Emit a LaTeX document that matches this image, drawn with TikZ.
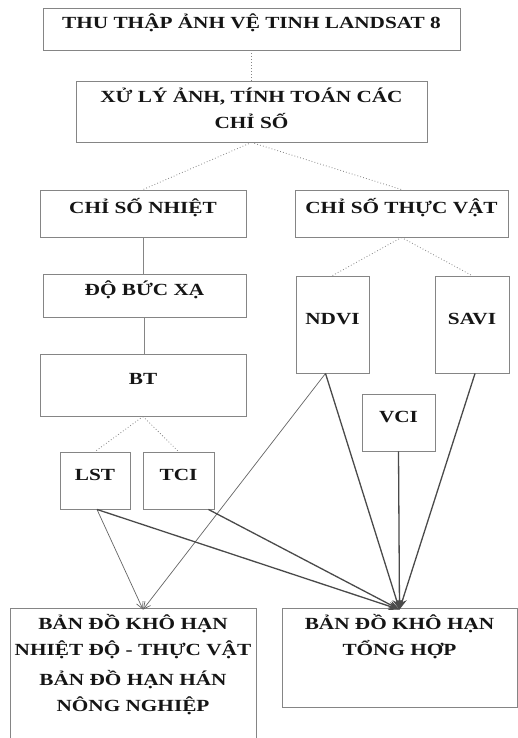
\documentclass[tikz,border=0pt]{standalone}
\usepackage{fontspec}
\setmainfont{Liberation Serif}[FakeStretch=1.25]
\usetikzlibrary{arrows.meta}
\definecolor{ink}{HTML}{151515}
\definecolor{edge}{HTML}{858585}
\definecolor{arr}{HTML}{4A4A4A}
\begin{document}
\begin{tikzpicture}[x=1pt,y=-1pt,
  box/.style={draw=edge, line width=0.9pt, inner sep=0pt, text=ink,
    font=\fontsize{17}{27}\selectfont\bfseries, text height=11pt, text depth=12pt},
  txt/.style={text=ink, font=\fontsize{17}{26}\selectfont\bfseries, align=center, inner sep=0pt},
  dotline/.style={draw=edge, line width=0.8pt, dash pattern=on 0.8pt off 2.2pt},
  plain/.style={draw=edge, line width=0.8pt},
  thinarrow/.style={draw=arr!85, line width=0.7pt, -{Straight Barb[length=7pt,width=7pt]}},
  darkarrow/.style={draw=arr, line width=1.3pt, -{Stealth[length=11pt,width=8pt]}},
]
\useasboundingbox (0,0) rectangle (518,738);
\fill[white] (0,0) rectangle (518,738);
\clip (0,0) rectangle (518,738);

\node[box, minimum width=417pt, minimum height=42pt] (b1) at (251.5,29) {THU THẬP ẢNH VỆ TINH LANDSAT 8};
\node[box, minimum width=351pt, minimum height=61pt,
  label={[txt, yshift=3pt]center:XỬ LÝ ẢNH, TÍNH TOÁN CÁC\\CHỈ SỐ}] (b2) at (251.5,111.5) {};
\node[box, minimum width=206pt, minimum height=47pt] (csn) at (143,213.5) {CHỈ SỐ NHIỆT};
\node[box, minimum width=213pt, minimum height=47pt] (cstv) at (401.5,213.5) {CHỈ SỐ THỰC VẬT};
\node[box, minimum width=203pt, minimum height=43pt] (dbx) at (144.5,295.5) {ĐỘ BỨC XẠ};
\node[box, minimum width=206pt, minimum height=62pt] (bt) at (143,385) {BT};
\node[box, minimum width=73pt, minimum height=97pt] (ndvi) at (332.5,324.5) {NDVI};
\node[box, minimum width=74pt, minimum height=97pt] (savi) at (472,324.5) {SAVI};
\node[box, minimum width=73pt, minimum height=57pt] (vci) at (398.5,422.5) {VCI};
\node[box, minimum width=70pt, minimum height=57pt] (lst) at (95,480.5) {LST};
\node[box, minimum width=71pt, minimum height=57pt] (tci) at (178.5,480.5) {TCI};
\node[box, minimum width=246pt, minimum height=142pt,
  label={[txt, anchor=north, yshift=-7pt]north:BẢN ĐỒ KHÔ HẠN\\NHIỆT ĐỘ - THỰC VẬT\\[4pt]BẢN ĐỒ HẠN HÁN\\NÔNG NGHIỆP}] (L) at (133,679) {};
\node[box, minimum width=235pt, minimum height=99pt,
  label={[txt, anchor=north, yshift=-7pt]north:BẢN ĐỒ KHÔ HẠN\\TỔNG HỢP}] (R) at (399.5,657.5) {};

\draw[dotline] (b1.south) -- (b2.north);
\draw[dotline] (b2.south) -- (csn.north);
\draw[dotline] (b2.south) -- (cstv.north);
\draw[plain] (csn.south) -- (csn.south |- dbx.north);
\draw[plain] (dbx.south) -- (dbx.south |- bt.north);
\draw[dotline] (bt.south) -- (lst.north);
\draw[dotline] (bt.south) -- (tci.north);
\draw[dotline] (cstv.south) -- (ndvi.north);
\draw[dotline] (cstv.south) -- (savi.north);

\coordinate (lt) at ([xshift=10pt,yshift=-2pt]L.north);
\coordinate (rt) at ([yshift=-2pt]R.north);
\draw[thinarrow] ([xshift=2pt]lst.south) -- (lt);
\draw[thinarrow] ([xshift=-7pt]ndvi.south) -- (lt);
\draw[darkarrow] ([xshift=2pt]lst.south) -- (rt);
\draw[darkarrow] ([xshift=-6pt]tci.south east) -- (rt);
\draw[darkarrow] ([xshift=-7pt]ndvi.south) -- (rt);
\draw[darkarrow] (vci.south) -- (rt);
\draw[darkarrow] ([xshift=3pt]savi.south) -- (rt);
\end{tikzpicture}
\end{document}
